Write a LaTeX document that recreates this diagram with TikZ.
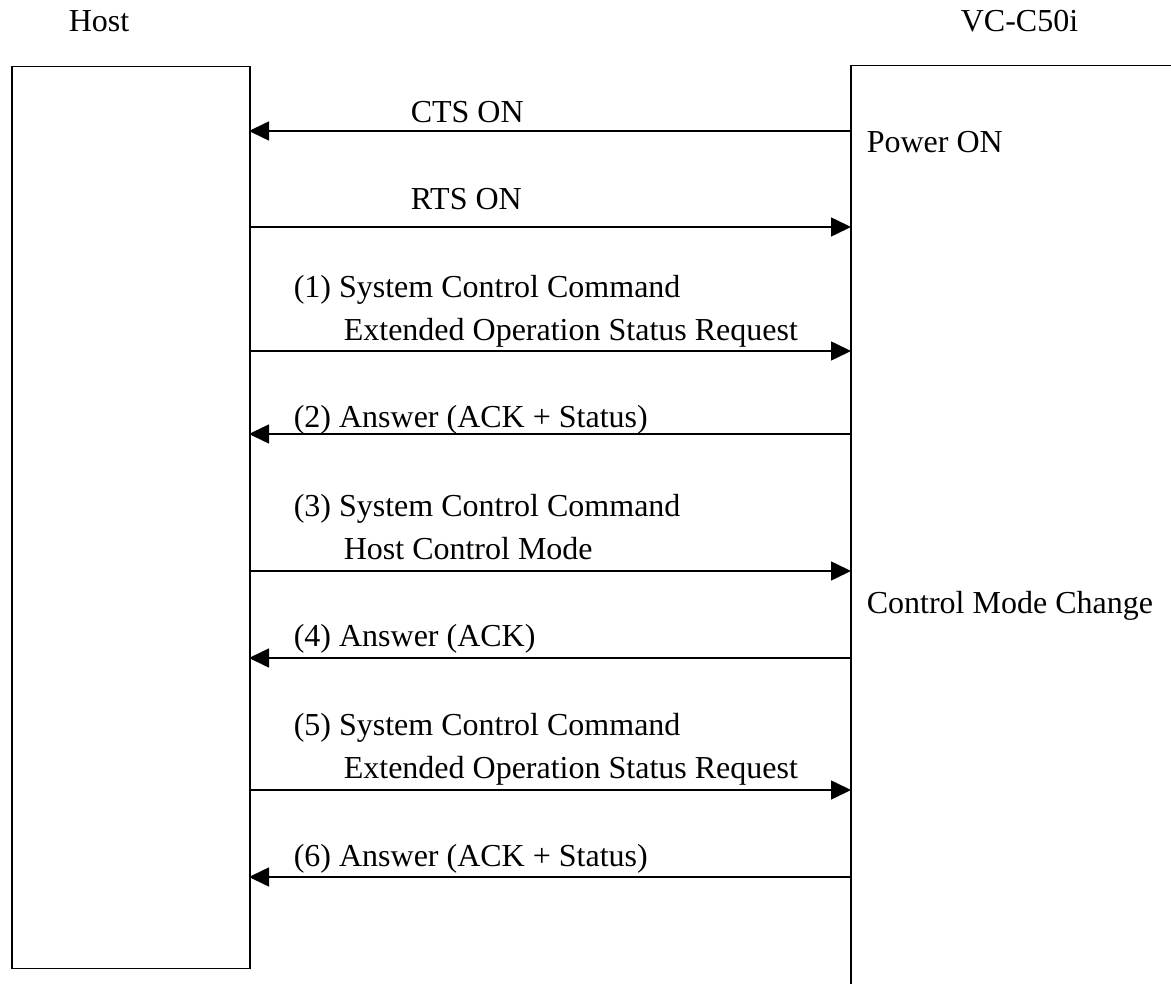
\documentclass[tikz,border=0pt]{standalone}
\usepackage{fontspec}
\setmainfont{Liberation Serif}
\usetikzlibrary{arrows.meta}
\tikzset{>={Triangle[length=20pt,width=19pt]}}

\begin{document}
\begin{tikzpicture}[x=1pt,y=-1pt,line width=1.6pt]
\useasboundingbox (0,0) rectangle (1171,984);

% the two sides
\node[draw,anchor=north west,inner sep=0,minimum width=238pt,minimum height=902pt] (host) at (11,65.7) {};
\coordinate (cam) at (851,65.7);
\draw (851,984) -- (cam) -- (1171,65.7);

\begin{scope}[every node/.style={anchor=base west,inner sep=0,font=\fontsize{32}{43}\selectfont}]
\node[anchor=base] (hostname) at (99,32) {Host};
\node (camname) at (960,32) {VC-C50i};
\node (power) at (866,153) {Power ON};
\node (change) at (866,613) {Control Mode Change};

\node (cts) at (410,122.5) {CTS ON};
\node (rts) at (410,209.5) {RTS ON};
\node (m1) at (293,298) {(1) System Control Command};
\node (m1b) at (343,341) {Extended Operation Status Request};
\node (m2) at (293,427.5) {(2) Answer (ACK + Status)};
\node (m3) at (293,516) {(3) System Control Command};
\node (m3b) at (343,559) {Host Control Mode};
\node (m4) at (293,646.5) {(4) Answer (ACK)};
\node (m5) at (293,735) {(5) System Control Command};
\node (m5b) at (343,778) {Extended Operation Status Request};
\node (m6) at (293,866.5) {(6) Answer (ACK + Status)};
\end{scope}

% message rows, host side and camera side
\coordinate (h0) at (249,131);  \coordinate (c0) at (851,131);
\coordinate (h1) at (249,227);  \coordinate (c1) at (851,227);
\coordinate (h2) at (249,351);  \coordinate (c2) at (851,351);
\coordinate (h3) at (249,434);  \coordinate (c3) at (851,434);
\coordinate (h4) at (249,571);  \coordinate (c4) at (851,571);
\coordinate (h5) at (249,658);  \coordinate (c5) at (851,658);
\coordinate (h6) at (249,790);  \coordinate (c6) at (851,790);
\coordinate (h7) at (249,877);  \coordinate (c7) at (851,877);

\begin{scope}[every edge/.style={draw=black,line width=1.6pt}]
    \path [->] (c0) edge (h0);
    \path [->] (h1) edge (c1);
    \path [->] (h2) edge (c2);
    \path [->] (c3) edge (h3);
    \path [->] (h4) edge (c4);
    \path [->] (c5) edge (h5);
    \path [->] (h6) edge (c6);
    \path [->] (c7) edge (h7);
\end{scope}
\end{tikzpicture}
\end{document}
